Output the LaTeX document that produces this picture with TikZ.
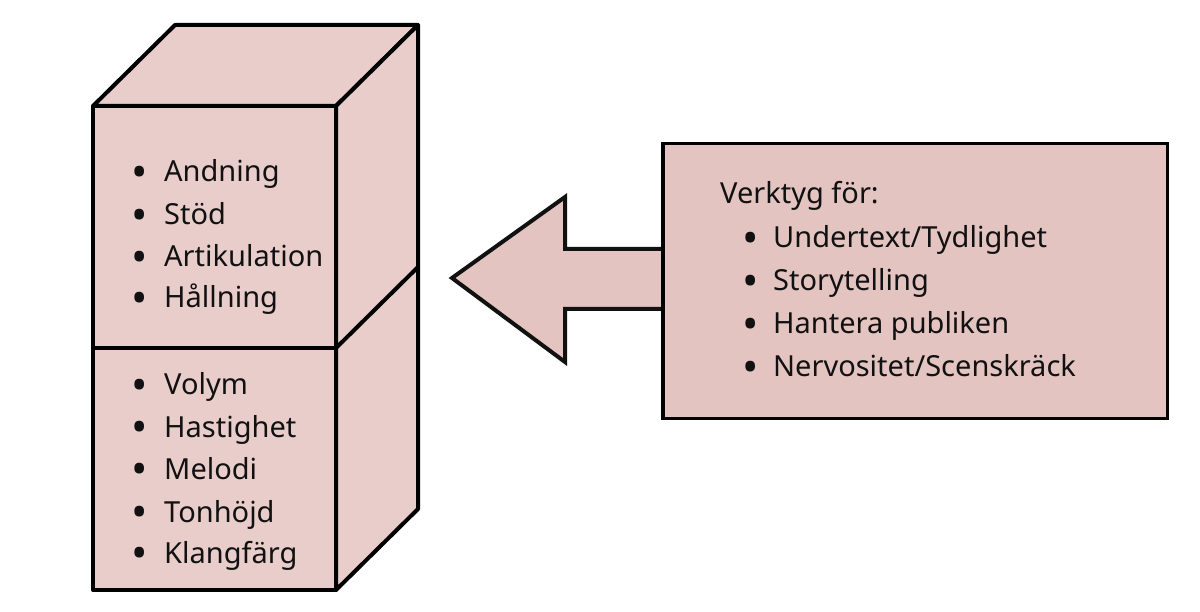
\documentclass[tikz,border=0pt]{standalone}
\usepackage{fontspec}
\setmainfont{Noto Sans}
\definecolor{cubefill}{HTML}{E9CDCB}
\definecolor{boxfill}{HTML}{E3C4C1}
\definecolor{ink}{HTML}{111111}
\begin{document}
\begin{tikzpicture}[x=1pt,y=-1pt,
  face/.style={draw=black,fill=cubefill,line width=4pt,line join=round},
  item/.style={anchor=base west,inner sep=0pt,font=\fontsize{29}{34}\selectfont,text=ink},
  dot/.style={anchor=center,inner sep=0pt,font=\fontsize{29}{34}\selectfont,text=ink}]
\useasboundingbox (0,0) rectangle (1200,612);
% cube
\draw[face] (93,106) -- (175,25) -- (418,25) -- (336,106) -- cycle;
\draw[face] (336,106) -- (418,25) -- (418,509) -- (336,590) -- cycle;
\draw[face] (93,106) rectangle (336,348);
\draw[face] (93,348) rectangle (336,590);
\draw[line width=4pt,line cap=round] (336,348) -- (418,267);
% cube lists
\foreach \t/\y/\n in {Andning/182/a1,Stöd/225/a2,Artikulation/267/a3,Hållning/308/a4,
  Volym/395/b1,Hastighet/437/b2,Melodi/479/b3,Tonhöjd/522/b4,Klangfärg/563/b5}{
  \node[dot] (d\n) at (140,\y-5) {\scalebox{1.5}{•}};
  \node[item] (\n) at (164,\y) {\t};
}
% tools box
\node[draw=black,fill=boxfill,line width=3pt,minimum width=504pt,minimum height=275pt,inner sep=0pt,anchor=north west] (tools) at (662,142) {};
\node[item] (head) at (720,204) {Verktyg för:};
\foreach \t/\y/\n in {{Undertext/Tydlighet}/248/c1,{Storytelling}/291/c2,{Hantera publiken}/334/c3,{Nervositet/Scenskräck}/377/c4}{
  \node[dot] (d\n) at (751,\y-5) {\scalebox{1.5}{•}};
  \node[item] (\n) at (773,\y) {\t};
}
% arrow
\coordinate (tip) at (452,278);
\draw[fill=boxfill,draw=none] (tools.west |- 0,249) -- (565,249) -- (565,197) -- (tip) -- (565,362) -- (565,309) -- (tools.west |- 0,309) -- cycle;
\draw[line width=4pt,line join=miter,color=ink] (tools.west |- 0,249) -- (565,249) -- (565,197) -- (tip) -- (565,362) -- (565,309) -- (tools.west |- 0,309);
\draw[line width=3pt] (tools.north west) -- (tools.south west);
\end{tikzpicture}
\end{document}
